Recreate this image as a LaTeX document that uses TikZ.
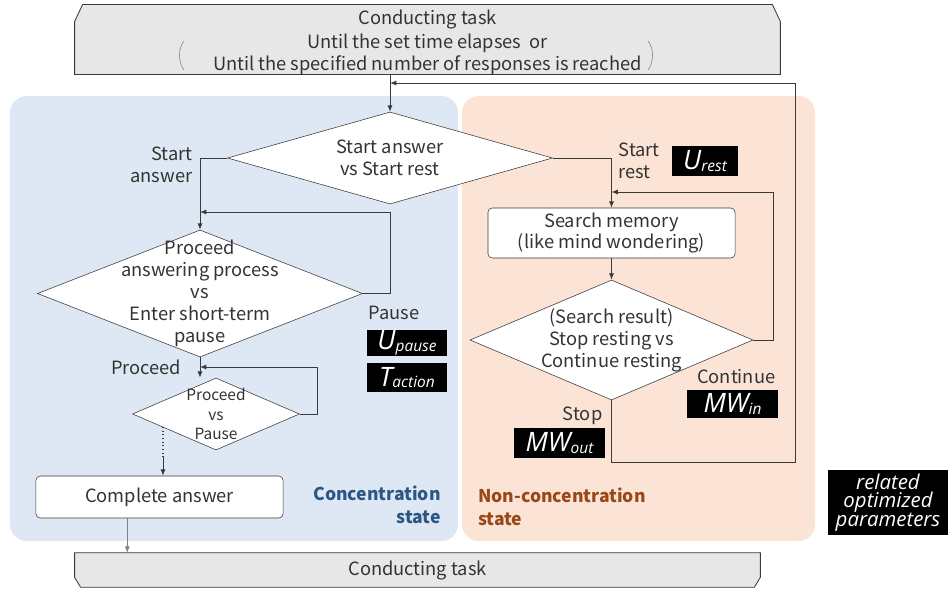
\documentclass[tikz,border=0pt]{standalone}
\usepackage{fontspec}
\setmainfont{Noto Sans CJK JP}
\newfontfamily\parfont{Open Sans}
\usepackage{tikz}
\usetikzlibrary{arrows.meta,calc,backgrounds,shapes.geometric}
\definecolor{linegray}{HTML}{3A3A3A}
\definecolor{textgray}{HTML}{333333}
\definecolor{taskfill}{HTML}{E7E7E7}
\definecolor{concfill}{HTML}{DEE8F4}
\definecolor{restfill}{HTML}{FBE4D6}
\definecolor{concblue}{HTML}{2D5686}
\definecolor{restbrown}{HTML}{99481A}

% italic parameter name with a small index
\newcommand{\param}[2]{{\parfont\itshape\fontsize{19}{19}\selectfont #1\raisebox{-1pt}{\fontsize{11}{11}\selectfont #2}}}

\begin{document}
\begin{tikzpicture}[
  x=0.025cm, y=-0.025cm,
  font=\fontsize{13}{15.6}\selectfont,
  text=textgray,
  area/.style={rounded corners=12pt,inner sep=0pt},
  task/.style={inner sep=0pt,align=center},
  taskline/.style={draw=linegray,fill=taskfill,line width=0.6pt},
  decision/.style={diamond,draw=linegray,fill=white,inner sep=0pt},
  process/.style={draw=linegray,fill=white,rounded corners=3pt,inner sep=0pt,align=center},
  param/.style={fill=black,text=white,inner sep=0pt},
  lbl/.style={align=center,inner sep=1pt},
  state/.style={font=\fontsize{12.5}{16}\selectfont\bfseries,inner sep=0pt},
  flow/.style={draw=linegray,line width=0.6pt,-{Latex[length=4.5pt,width=3.6pt]}},
  wire/.style={draw=linegray,line width=0.6pt}
]
\useasboundingbox (0,0) rectangle (948,588);

\node[area,fill=concfill,minimum width=11.2cm,minimum height=11.125cm] (conc) at (234,318.5) {};
\node[area,fill=restfill,minimum width=8.825cm,minimum height=11.125cm] (rest) at (638.5,318.5) {};

% task boxes, cut corners drawn below the text
\node[task,minimum width=17.625cm,minimum height=1.675cm] (top) at (427.5,39.5)
  {\rule{0pt}{0.5cm}Conducting task\\[1pt]Until the set time elapses\ \ or\\Until the specified number of responses is reached};
\node[task,minimum width=17.125cm,minimum height=0.85cm] (bot) at (417.5,570) {Conducting task};
\begin{pgfonlayer}{background}
  \draw[taskline] (top.south west) -- ($(top.north west)+(0,17)$) -- ($(top.north west)+(8,0)$)
    -- ($(top.north east)+(-8,0)$) -- ($(top.north east)+(0,17)$) -- (top.south east) -- cycle;
  \draw[taskline] (bot.north west) -- ($(bot.south west)+(0,-10)$) -- ($(bot.south west)+(6,0)$)
    -- ($(bot.south east)+(-6,0)$) -- ($(bot.south east)+(0,-10)$) -- (bot.north east) -- cycle;
\end{pgfonlayer}
\draw[gray,line width=0.4pt] (184,41) .. controls (178,48) and (178,63) .. (184,70);
\draw[gray,line width=0.4pt] (648,41) .. controls (654,48) and (654,63) .. (648,70);

% concentration side
\node[decision,minimum width=8.125cm,minimum height=2.3cm,label={[lbl]center:Start answer\\vs Start rest}] (d1) at (390,158) {};
\node[decision,minimum width=8.125cm,minimum height=3.175cm,label={[lbl]center:Proceed\\answering process\\vs\\Enter short-term\\pause}] (d2) at (200,293.5) {};
\node[decision,minimum width=4.175cm,minimum height=1.8cm,label={[lbl,font=\fontsize{11}{14}\selectfont]center:Proceed\\vs\\Pause}] (d3) at (216,414) {};
\node[process,minimum width=6.175cm,minimum height=1.05cm] (done) at (159.5,497) {Complete answer};

% non-concentration side
\node[process,minimum width=6.175cm,minimum height=1.25cm] (mem) at (611.5,233) {Search memory\\(like mind wondering)};
\node[decision,minimum width=7.075cm,minimum height=3.0cm,label={[lbl]center:(Search result)\\Stop resting vs\\Continue resting}] (d4) at (611.5,340) {};

% branch labels
\node[lbl,align=right,anchor=east] (lanswer) at (194,165) {Start\\answer};
\node[lbl] (lpause) at (394,313) {Pause};
\node[lbl,anchor=east] (lproceed) at (183,367) {Proceed};
\node[lbl,align=left,anchor=west] (lrest) at (617,161) {Start\\rest};
\node[lbl,anchor=east] (lcont) at (777,377) {Continue};
\node[lbl,anchor=east] (lstop) at (604,416) {Stop};

\node[state,text=concblue,align=right,anchor=east] (tconc) at (441,505) {Concentration\\state};
\node[state,text=restbrown,align=left,anchor=west] (trest) at (478,507) {Non-concentration\\state};

% parameters
\node[param,minimum width=2cm,minimum height=0.65cm] (upause) at (407,343) {\param{U}{pause}};
\node[param,minimum width=2cm,minimum height=0.725cm] (taction) at (407,377.5) {\param{T}{action}};
\node[param,minimum width=1.65cm,minimum height=0.75cm] (urest) at (705,161) {\param{U}{rest}};
\node[param,minimum width=2.275cm,minimum height=0.7cm] (mwin) at (732.5,404) {\param{MW}{in}};
\node[param,minimum width=2.275cm,minimum height=0.75cm] (mwout) at (559.5,443) {\param{MW}{out}};
\node[param,minimum width=3cm,minimum height=1.625cm,align=center,font=\parfont\itshape\fontsize{14.5}{13.2}\selectfont] (legend) at (888,502.5) {related\\optimized\\parameters};

% joints
\coordinate (join) at (top.south |- 0,83);
\coordinate (ret) at (795,462);
\coordinate (loopa) at (200,212);
\coordinate (loopb) at (200,367);
\coordinate (loopc) at (611.5,192);
\coordinate (dots) at (163,427);
\coordinate (out) at ($(done.south west)!0.37!(done.south east)$);

% connectors
\draw[flow] (top.south -| d1.north) -- (d1.north);
\draw[flow] (d4.south) |- (ret) -- (ret |- join) -- (d1.north |- join);
\draw[flow] (d1.west) -| (d2.north);
\draw[flow] (d2.east) -- ++(28,0) |- (loopa);
\draw[flow] (d2.south) -- (d2.south |- d3.north);
\draw[flow] (d3.east) -- ++(18,0) |- (loopb);
\draw[wire,dotted,line width=1pt] (dots) -- ++(0,30);
\draw[flow] ($(dots)+(0,30)$) -- (dots |- done.north);
\draw[flow,draw=gray] (out) -- (out |- bot.north);
\draw[flow] (d1.east) -| (mem.north);
\draw[flow] (mem.south) -- (d4.north);
\draw[flow] (d4.east) -- ++(20,0) |- (loopc);
\end{tikzpicture}
\end{document}
